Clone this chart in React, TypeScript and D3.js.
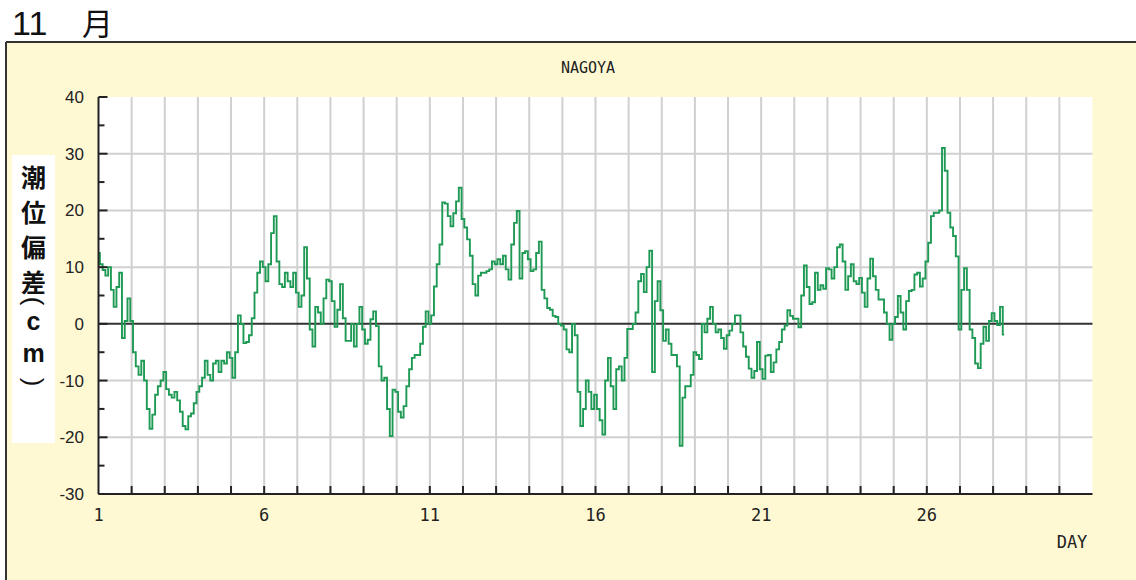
import React from 'react';
import * as d3 from 'd3';

// 潮位偏差 (cm), 名古屋, 11月 — 2時間ごとの値 (1日12個), 1日0時から
const surgeByDay: number[][] = [
  [12.5, 10.5, 9.5, 8.5, 10, 6, 3, 6.5, 9, -2.5, 0.5, 4.5], // 1
  [0.5, -5, -7.5, -9, -6.5, -10, -15, -18.5, -16, -12.5, -11, -10], // 2
  [-8.5, -11.5, -12.5, -13, -12, -13.5, -15.5, -18, -18.6, -16.3, -15.8, -14], // 3
  [-12, -11, -9.5, -6.5, -9, -10, -7, -6.5, -8.5, -6.5, -7, -5], // 4
  [-6, -9.5, -5, 1.5, 0, -3.4, -3.2, -2, 1, 5.5, 9, 11], // 5
  [10, 7.5, 10.5, 16, 19, 11, 7, 6.5, 9, 7.5, 6.5, 9], // 6
  [5.5, 3, 5, 13.5, 8, -1, -4, 3, 2, 0, 4.5, 7.8], // 7
  [7.5, 4, -0.5, 2.5, 7, 1, -3, -3, 0, -4, 0, 3], // 8
  [-1, -3.5, -2.8, 0.8, 2.2, -0.4, -7.5, -10, -9.5, -15, -19.8, -11.6], // 9
  [-12, -15.5, -16.5, -14.5, -11, -8, -6, -5.5, -5.5, -3.5, -0.5, 2.2], // 10
  [0, 1.5, 6.6, 10.5, 14, 21.4, 21.2, 19, 17.2, 19.5, 21.6, 24], // 11
  [18.5, 17, 14.9, 12, 7, 5, 8.5, 9, 9, 9.3, 9.6, 11], // 12
  [10.5, 11.4, 10.5, 12, 9.6, 7.8, 14, 17.8, 19.9, 8, 12.5, 12.8], // 13
  [11.4, 9.3, 9.6, 12.5, 14.5, 6, 4.5, 2.8, 2.5, 1.4, 1.2, 0], // 14
  [-0.3, -1, -4.5, -5, 0, -2, -12, -18, -15, -10, -12, -15], // 15
  [-12.5, -15, -17, -19.5, -10, -6, -11, -15, -8, -7.5, -10, -6], // 16
  [-0.9, -0.9, 0, 2, 7.5, 8.8, 5.6, 10, 12.9, -8.5, 4, 7.5], // 17
  [2.4, -3, -1, -3.5, -5.5, -5.5, -7.5, -21.5, -13, -11, -11, -9], // 18
  [-5, -5.5, -6.2, 0, -1.5, 0.9, 3, 0, -1.5, -1, -2.5, -4.4], // 19
  [-2, -1.2, 0, 1.5, 1.5, -1.5, -4, -5.8, -7.9, -9.5, -8.3, -3.2], // 20
  [-8, -9.7, -5.6, -5.5, -8.5, -6.8, -4.5, -3.2, -1, -0.3, 2.4, 1.4], // 21
  [0.9, 0.9, -0.6, 5, 10.3, 6.5, 3.5, 3.8, 9, 6, 6.8, 6.2], // 22
  [9.8, 9.6, 8, 10, 13.5, 14, 11, 6, 8.4, 10.5, 7.5, 7], // 23
  [8.1, 5.5, 3, 8, 11.5, 8.4, 6, 4.3, 4.3, 2, 0, -2.8], // 24
  [0, 1.2, 4.9, 2, -1, 4, 5.8, 6, 8.7, 9, 6.6, 8], // 25
  [11, 14.3, 19, 19.6, 19.6, 20, 31, 27, 19.6, 17, 15.5, 11.9], // 26
  [-1, 6, 9.8, 6, -1, -2.5, -7, -7.8, -3.5, -0.5, -3, 0.5], // 27
  [1.9, 0.5, -0.2, 3, -1.9], // 28
];
const STEP_HOURS = 2;

const yTicks = [-30, -20, -10, 0, 10, 20, 30, 40];
const yMinorTicks = [-25, -15, -5, 5, 15, 25, 35];
const xTickLabels = [1, 6, 11, 16, 21, 26];
const dayLines = d3.range(2, 31);
// 縦書きラベル (括弧は横向きに回転して描く)
const yLabelChars = ['潮', '位', '偏', '差', '(', 'c', 'm', ')'];

const W = 1136;
const H = 580;
const plot = { left: 98.5, right: 1092.5, top: 97, bottom: 494 };

const App: React.FC = () => {
  const x = d3.scaleLinear().domain([1, 31]).range([plot.left, plot.right]);
  const y = d3.scaleLinear().domain([-30, 40]).range([plot.bottom, plot.top]);

  const points: [number, number][] = [];
  surgeByDay.forEach((vals, di) => {
    vals.forEach((v, k) => {
      const day = 1 + di + (k * STEP_HOURS) / 24;
      points.push([day, v]);
    });
  });

  const line = d3
    .line<[number, number]>()
    .x(d => x(d[0]))
    .y(d => y(d[1]))
    .curve(d3.curveStep);

  const labelY = [176, 211, 246, 281, 301, 321, 353, 382];

  return (
    <svg
      width={W}
      height={H}
      style={{ position: 'absolute', left: 0, top: 0, display: 'block', background: '#fff' }}
    >
      {/* title */}
      <text x={12} y={35} fontFamily="Liberation Sans, Arial, sans-serif" fontSize={34} fill="#111">
        11
      </text>
      <text x={82} y={35} fontFamily="Noto Sans CJK JP, sans-serif" fontSize={31} fill="#111">
        月
      </text>

      {/* panel */}
      <rect x={6} y={42} width={W - 6} height={H - 42} fill="#fff9d3" />
      <line x1={6} y1={42} x2={W} y2={42} stroke="#333" strokeWidth={2} />
      <line x1={6} y1={42} x2={6} y2={H} stroke="#333" strokeWidth={2} />

      <text
        x={588}
        y={73}
        textAnchor="middle"
        fontFamily="DejaVu Sans Mono, monospace"
        fontSize={15}
        fill="#222"
      >
        NAGOYA
      </text>

      {/* plot area */}
      <rect x={plot.left} y={plot.top} width={plot.right - plot.left} height={plot.bottom - plot.top} fill="#fff" />

      {dayLines.map(d => (
        <line key={'v' + d} x1={x(d)} x2={x(d)} y1={plot.top} y2={plot.bottom} stroke="#d0d0d0" strokeWidth={2} />
      ))}
      {yTicks
        .filter(v => v !== 0 && v !== -30 && v !== 40)
        .map(v => (
          <line key={'h' + v} x1={plot.left} x2={plot.right} y1={y(v)} y2={y(v)} stroke="#d0d0d0" strokeWidth={2} />
        ))}

      {/* zero line */}
      <line x1={plot.left} x2={plot.right} y1={y(0)} y2={y(0)} stroke="#333" strokeWidth={2} />

      {/* series */}
      <path d={line(points) || ''} fill="none" stroke="#1f9a55" strokeWidth={1.9} />

      {/* axes */}
      <line x1={plot.left} x2={plot.left} y1={plot.top} y2={plot.bottom} stroke="#222" strokeWidth={2} />
      <line x1={plot.left} x2={plot.right} y1={plot.bottom} y2={plot.bottom} stroke="#222" strokeWidth={2} />
      {yTicks.map(v => (
        <line key={'yt' + v} x1={plot.left} x2={plot.left + 9} y1={y(v)} y2={y(v)} stroke="#222" strokeWidth={2} />
      ))}
      {yMinorTicks.map(v => (
        <line key={'ym' + v} x1={plot.left} x2={plot.left + 6} y1={y(v)} y2={y(v)} stroke="#222" strokeWidth={2} />
      ))}
      {dayLines.map(d => (
        <line key={'xt' + d} x1={x(d)} x2={x(d)} y1={plot.bottom} y2={plot.bottom - 8} stroke="#222" strokeWidth={2} />
      ))}

      {yTicks.map(v => (
        <text
          key={'yl' + v}
          x={84}
          y={y(v) + 6}
          textAnchor="end"
          fontFamily="Liberation Sans, Arial, sans-serif"
          fontSize={17}
          fill="#222"
        >
          {v}
        </text>
      ))}
      {xTickLabels.map(d => (
        <text
          key={'xl' + d}
          x={x(d)}
          y={521}
          textAnchor="middle"
          fontFamily="DejaVu Sans Mono, monospace"
          fontSize={17}
          fill="#222"
        >
          {d}
        </text>
      ))}
      <text x={1072} y={548} textAnchor="middle" fontFamily="DejaVu Sans Mono, monospace" fontSize={17} fill="#222">
        DAY
      </text>

      {/* y-axis title */}
      <rect x={12} y={155} width={43} height={288} fill="#fff" />
      {yLabelChars.map((c, i) => {
        const isParen = c === '(' || c === ')';
        const isLatin = c === 'c' || c === 'm';
        return (
          <text
            key={'lab' + i}
            x={33.5}
            y={labelY[i]}
            textAnchor="middle"
            dominantBaseline="central"
            transform={isParen ? `rotate(90 33.5 ${labelY[i]})` : undefined}
            fontFamily={isParen || isLatin ? 'Liberation Sans, Arial, sans-serif' : 'Noto Sans CJK JP, sans-serif'}
            fontWeight={isParen ? 400 : 700}
            fontSize={isParen ? 26 : isLatin ? 25 : 25}
            fill="#111"
          >
            {c}
          </text>
        );
      })}
    </svg>
  );
};

export default App;
